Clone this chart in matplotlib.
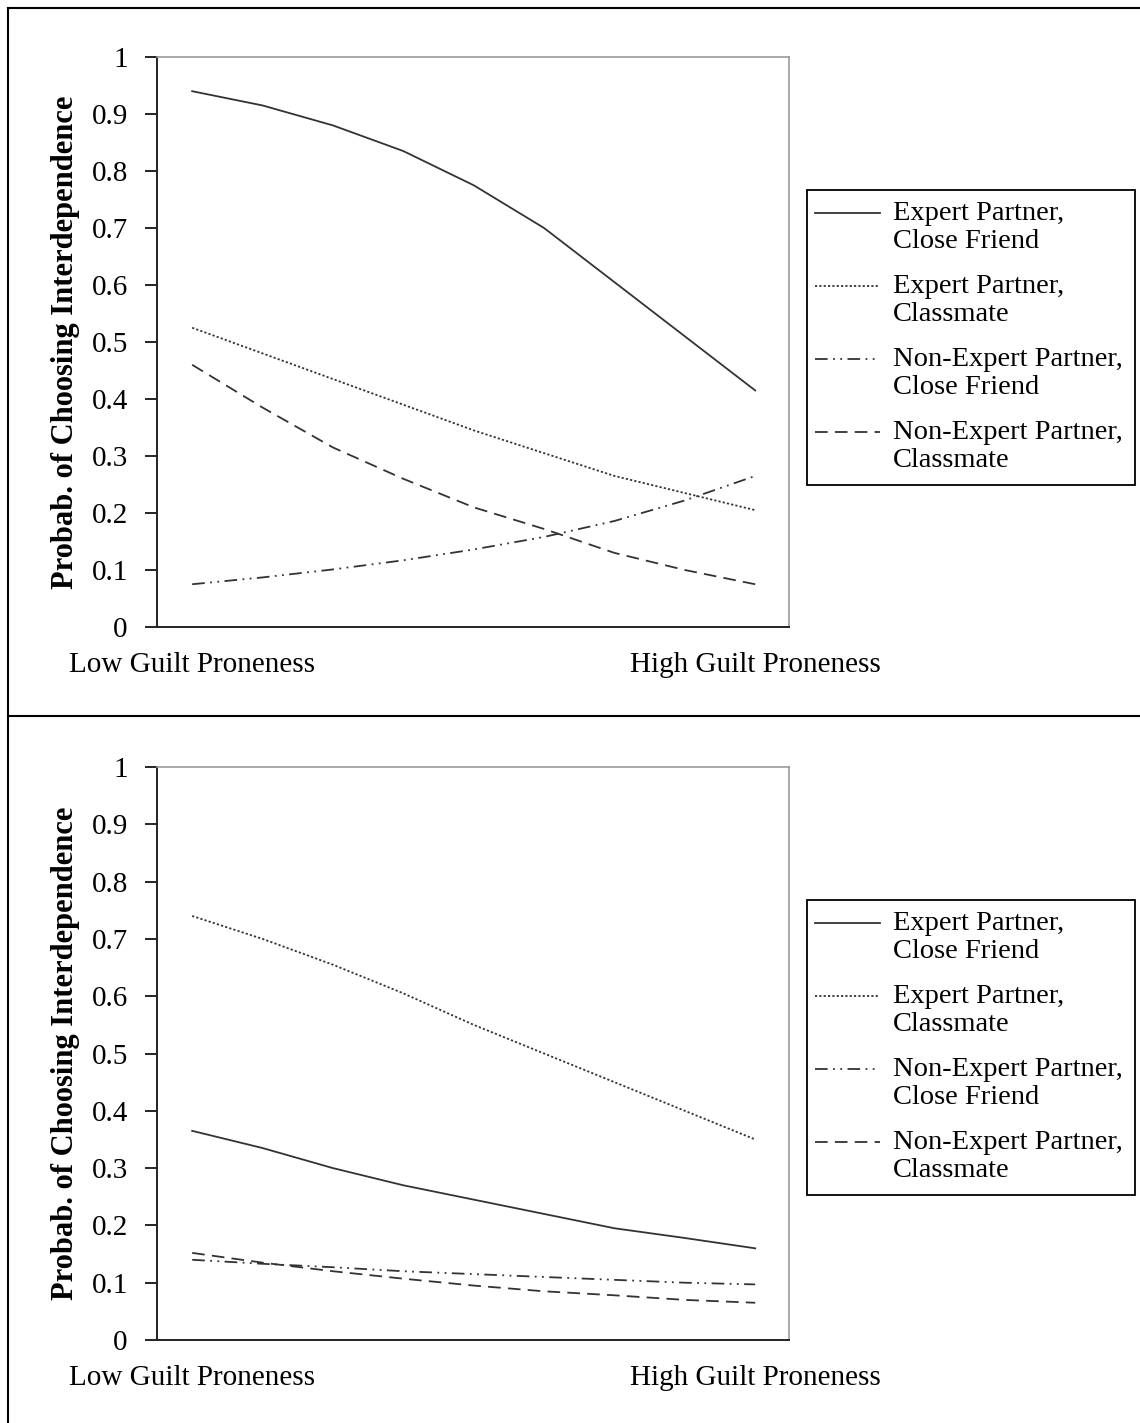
import numpy as np
import matplotlib.pyplot as plt
from matplotlib.lines import Line2D
from matplotlib.patches import Rectangle

plt.rcParams['font.family'] = ['Liberation Serif', 'DejaVu Serif']

# Data: predicted probabilities from low to high guilt proneness
x_labels = ['Low Guilt Proneness', 'High Guilt Proneness']
series_names = ['Expert Partner,\nClose Friend', 'Expert Partner,\nClassmate',
                'Non-Expert Partner,\nClose Friend', 'Non-Expert Partner,\nClassmate']

top_expert_friend = [0.94, 0.915, 0.88, 0.835, 0.775, 0.70, 0.605, 0.51, 0.415]
top_expert_class = [0.525, 0.48, 0.435, 0.39, 0.345, 0.305, 0.265, 0.235, 0.205]
top_nonexp_friend = [0.075, 0.087, 0.101, 0.117, 0.136, 0.158, 0.186, 0.222, 0.265]
top_nonexp_class = [0.46, 0.385, 0.315, 0.26, 0.21, 0.172, 0.13, 0.10, 0.075]

bot_expert_friend = [0.365, 0.335, 0.30, 0.27, 0.245, 0.22, 0.195, 0.178, 0.16]
bot_expert_class = [0.74, 0.70, 0.655, 0.605, 0.55, 0.50, 0.45, 0.40, 0.35]
bot_nonexp_friend = [0.14, 0.133, 0.127, 0.12, 0.115, 0.11, 0.105, 0.10, 0.097]
bot_nonexp_class = [0.152, 0.135, 0.12, 0.107, 0.095, 0.085, 0.078, 0.07, 0.065]

styles = ['-', (0, (1.2, 1.2)), (0, (7, 3, 1, 3, 1, 3)), (0, (7, 4))]
line_color = '#333333'

fig = plt.figure(figsize=(11.4, 14.23), dpi=100)

# outer frame and divider
fig.add_artist(Line2D([8 / 1140, 8 / 1140], [0, 1 - 8 / 1423], color='black', lw=1.5))
fig.add_artist(Line2D([8 / 1140, 1], [1 - 8 / 1423, 1 - 8 / 1423], color='black', lw=1.5))
fig.add_artist(Line2D([8 / 1140, 1], [1 - 716 / 1423, 1 - 716 / 1423], color='black', lw=1.5))

panels = [
    ([0.1377, 1 - 627 / 1423, 632 / 1140, 570 / 1423],
     [top_expert_friend, top_expert_class, top_nonexp_friend, top_nonexp_class], 190),
    ([0.1377, 1 - 1340 / 1423, 632 / 1140, 573 / 1423],
     [bot_expert_friend, bot_expert_class, bot_nonexp_friend, bot_nonexp_class], 900),
]

for rect, data, leg_top in panels:
    ax = fig.add_axes(rect)
    x = np.arange(len(data[0]))
    for vals, ls in zip(data, styles):
        ax.plot(x, vals, linestyle=ls, color=line_color, lw=1.3)
    ax.set_xlim(-0.5, 8.48)
    ax.set_ylim(0, 1)
    ax.set_yticks(np.arange(0, 1.01, 0.1))
    ax.set_yticklabels(['0', '0.1', '0.2', '0.3', '0.4', '0.5', '0.6', '0.7', '0.8', '0.9', '1'])
    ax.set_xticks([0, 8])
    ax.set_xticklabels(x_labels)
    ax.tick_params(axis='x', length=0, pad=18, labelsize=21)
    ax.tick_params(axis='y', length=9, width=1.2, pad=12, labelsize=21, direction='out')
    for s in ['top', 'right']:
        ax.spines[s].set_color('#999999')
        ax.spines[s].set_linewidth(1.2)
    for s in ['left', 'bottom']:
        ax.spines[s].set_color('#222222')
        ax.spines[s].set_linewidth(1.4)
    ax.set_ylabel('Probab. of Choosing Interdependence', fontsize=22, fontweight='bold', labelpad=8)

    # legend box drawn by hand so the handle sits on the first text line
    lx0, lx1 = 807 / 1140, 1135 / 1140
    ly0 = 1 - leg_top / 1423
    lh = 295 / 1423
    fig.add_artist(Rectangle((lx0, ly0 - lh), lx1 - lx0, lh, transform=fig.transFigure,
                             fill=False, edgecolor='black', lw=1.3))
    for i, (name, ls) in enumerate(zip(series_names, styles)):
        yy = leg_top + 23 + i * 73
        yf = 1 - yy / 1423
        fig.add_artist(Line2D([815 / 1140, 880 / 1140], [yf, yf], linestyle=ls,
                              color=line_color, lw=1.3))
        fig.text(893 / 1140, 1 - (yy - 12) / 1423, name, fontsize=20.5, va='top', ha='left',
                 linespacing=1.15)

fig.savefig('out.png', dpi=100)
